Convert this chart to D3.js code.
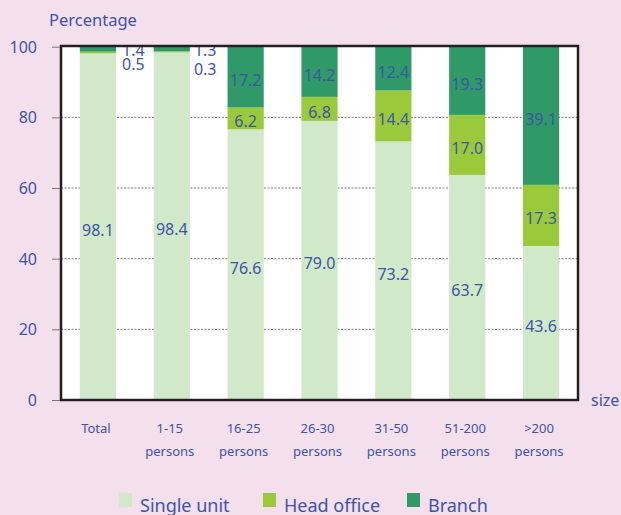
<!DOCTYPE html>
<html>
<head>
<meta charset="utf-8">
<script src="https://cdn.jsdelivr.net/npm/d3@7"></script>
<style>
  body { margin: 0; background: #f4dfec; }
  svg { display: block; font-family: "Noto Sans", sans-serif; }
</style>
</head>
<body>
<div id="chart"></div>
<script>
// data
const catLine1 = ["Total", "1-15", "16-25", "26-30", "31-50", "51-200", ">200"]
const catLine2 = ["", "persons", "persons", "persons", "persons", "persons", "persons"]
const singleUnit = [98.1, 98.4, 76.6, 79.0, 73.2, 63.7, 43.6]
const headOffice = [0.5, 0.3, 6.2, 6.8, 14.4, 17.0, 17.3]
const branch = [1.4, 1.3, 17.2, 14.2, 12.4, 19.3, 39.1]
const yTicks = [0, 20, 40, 60, 80, 100]
const seriesNames = ["Single unit", "Head office", "Branch"]
const seriesColors = ["#d1e8c9", "#9aca3c", "#2f9a68"]

const W = 621, H = 515
const pL = 61, pR = 578, pT = 46, pB = 400
const txtColor = "#3d55a6"

const rows = catLine1.map((c, i) => ({ i: i, s: singleUnit[i], h: headOffice[i], b: branch[i] }))
const stack = d3.stack().keys(["s", "h", "b"])(rows)

const x = d3.scaleBand().domain(d3.range(catLine1.length)).range([pL, pR]).paddingInner(0.51).paddingOuter(0.255)
const y = d3.scaleLinear().domain([0, 100]).range([pB, pT + 0.7])

const svg = d3.select("#chart").append("svg").attr("width", W).attr("height", H)

svg.append("rect").attr("x", pL).attr("y", pT).attr("width", pR - pL).attr("height", pB - pT).attr("fill", "#fff")

// dotted grid
svg.append("g").selectAll("line").data(yTicks.filter(d => d > 0 && d < 100))
    .enter().append("line")
    .attr("x1", pL).attr("x2", pR)
    .attr("y1", d => y(d)).attr("y2", d => y(d))
    .attr("stroke", "#555").attr("stroke-width", 0.8).attr("stroke-dasharray", "2,1.5")

// bars
const layer = svg.append("g").selectAll("g").data(stack).enter().append("g")
    .attr("fill", (d, k) => seriesColors[k])
layer.selectAll("rect").data(d => d).enter().append("rect")
    .attr("x", d => x(d.data.i))
    .attr("width", x.bandwidth())
    .attr("y", d => y(d[1]))
    .attr("height", d => y(d[0]) - y(d[1]))

// value labels
const clip = svg.append("clipPath").attr("id", "plotclip")
clip.append("rect").attr("x", pL).attr("y", pT + 0.5).attr("width", W - pL).attr("height", pB - pT)
const lab = svg.append("g").attr("clip-path", "url(#plotclip)")
    .attr("fill", txtColor).attr("font-size", 16)
stack.forEach((ser, k) => {
    ser.forEach(d => {
        const v = d[1] - d[0]
        const t = lab.append("text").text(d3.format(".1f")(v))
        if (v < 3) {
            // small shares written beside the bar
            t.attr("text-anchor", "start")
                .attr("x", x(d.data.i) + x.bandwidth() + (d.data.i == 0 ? 6 : 4))
                .attr("y", k == 2 ? y(100) + 9.5 : y(100) + (d.data.i == 0 ? 23.5 : 28.5))
        } else {
            t.attr("text-anchor", "middle")
                .attr("x", x(d.data.i) + x.bandwidth() / 2)
                .attr("y", y((d[0] + d[1]) / 2) + 9)
        }
    })
})

// plot border
svg.append("rect").attr("x", pL).attr("y", pT).attr("width", pR - pL).attr("height", pB - pT)
    .attr("fill", "none").attr("stroke", "#231f20").attr("stroke-width", 2.5)

// y axis
const yAxis = svg.append("g").attr("transform", `translate(${pL - 1},0)`)
    .call(d3.axisLeft(y).tickValues(yTicks).tickSize(8).tickPadding(15))
yAxis.select(".domain").remove()
yAxis.selectAll("line").attr("stroke", "#777")
yAxis.selectAll("text").attr("fill", txtColor).attr("font-size", 16)
    .attr("font-family", "Noto Sans, sans-serif").attr("dy", "0.34em")

svg.append("text").attr("x", 49).attr("y", 26).attr("fill", txtColor)
    .attr("font-size", 16.5).text("Percentage")
svg.append("text").attr("x", 591).attr("y", 406).attr("fill", txtColor)
    .attr("font-size", 16).text("size")

// category labels
const cats = svg.append("g").attr("fill", txtColor).attr("font-size", 13).attr("text-anchor", "middle")
catLine1.forEach((c, i) => {
    const cx = x(i) + x.bandwidth() / 2 - 2
    cats.append("text").attr("x", cx).attr("y", 433).text(c)
    cats.append("text").attr("x", cx).attr("y", 456).text(catLine2[i])
})

// legend
const legX = [119, 263, 407]
const leg = svg.append("g")
seriesNames.forEach((n, k) => {
    leg.append("rect").attr("x", legX[k]).attr("y", 493).attr("width", 13).attr("height", 14)
        .attr("fill", seriesColors[k])
    leg.append("text").attr("x", legX[k] + 21).attr("y", 511.5).attr("fill", txtColor)
        .attr("font-size", 18).text(n)
})
</script>
</body>
</html>
